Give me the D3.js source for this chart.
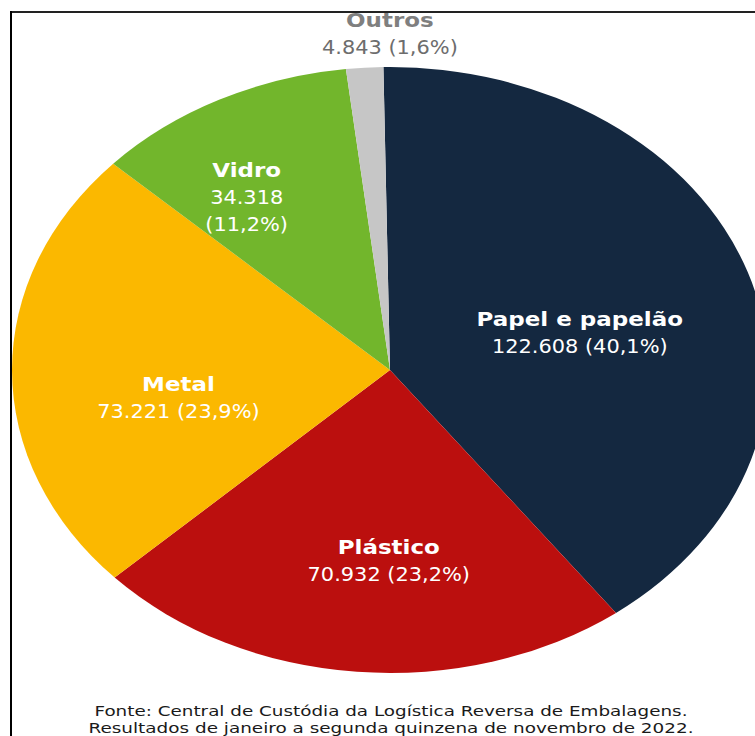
<!DOCTYPE html>
<html>
<head>
<meta charset="utf-8">
<script src="https://cdn.jsdelivr.net/npm/d3@7"></script>
<style>
  body { margin: 0; background: #fff; }
  text { font-family: "DejaVu Sans", sans-serif; }
</style>
</head>
<body>
<svg width="755" height="736"></svg>
<script>
// data (clockwise from the top)
var categories = ["Papel e papelão", "Plástico", "Metal", "Vidro", "Outros"];
var values = [122608, 70932, 73221, 34318, 4843];
var valueLabels = ["122.608", "70.932", "73.221", "34.318", "4.843"];
var percentLabels = ["40,1%", "23,2%", "23,9%", "11,2%", "1,6%"];
var sourceLines = [
  "Fonte: Central de Custódia da Logística Reversa de Embalagens.",
  "Resultados de janeiro a segunda quinzena de novembro de 2022."
];

var colors = ["#142840", "#bb0f0e", "#fbb800", "#72b62c", "#c6c6c6"];

var svg = d3.select("svg"),
    cx = 390, cy = 370,
    ry = 303,          // vertical radius
    sx = 378 / 303;    // the pie is stretched sideways

var data = categories.map(function(c, i) {
  return {name: c, value: values[i], valueLabel: valueLabels[i], pct: percentLabels[i], color: colors[i]};
});

var start = -1 * Math.PI / 180;
var pie = d3.pie()
    .sort(null)
    .value(function(d) { return d.value; })
    .startAngle(start)
    .endAngle(start + 2 * Math.PI);

var arcs = pie(data);

var arc = d3.arc().innerRadius(0).outerRadius(ry);

var g = svg.append("g")
    .attr("transform", "translate(" + cx + "," + cy + ") scale(" + sx + ",1)");

g.selectAll("path")
  .data(arcs)
  .enter().append("path")
    .attr("d", arc)
    .attr("fill", function(d) { return d.data.color; });

// labels sit on the arc centroid, moved a bit to where the original puts them
var labelArc = d3.arc().innerRadius(176).outerRadius(176);
var outerArc = d3.arc().innerRadius(336).outerRadius(336);
var nudge = {
  "Papel e papelão": [-18, 13],
  "Plástico": [18, 9],
  "Metal": [8, 20],
  "Vidro": [-44, -36],
  "Outros": [28, -8]
};

var labels = svg.append("g")
    .attr("transform", "translate(" + cx + "," + cy + ")");

arcs.forEach(function(d) {
  var name = d.data.name,
      c = (name == "Outros" ? outerArc : labelArc).centroid(d),
      x = c[0] * sx + nudge[name][0],
      y = c[1] + nudge[name][1],
      light = name == "Outros",
      lines;

  if (name == "Vidro") lines = [d.data.valueLabel, "(" + d.data.pct + ")"];
  else lines = [d.data.valueLabel + " (" + d.data.pct + ")"];

  labels.append("text")
      .attr("transform", "translate(" + x + "," + y + ") scale(1.21,1)")
      .attr("text-anchor", "middle")
      .attr("font-size", 19)
      .attr("font-weight", "bold")
      .attr("fill", light ? "#7f7f7f" : "#fff")
      .text(name);

  lines.forEach(function(l, j) {
    labels.append("text")
        .attr("transform", "translate(" + x + "," + (y + 27 * (j + 1)) + ") scale(1.1,1)")
        .attr("text-anchor", "middle")
        .attr("font-size", 19)
        .attr("fill", light ? "#6d6d6d" : "#fff")
        .text(l);
  });
});

// source note (the second line runs to the bottom edge, as in the original)
svg.selectAll(".source")
  .data(sourceLines)
  .enter().append("text")
    .attr("class", "source")
    .attr("x", 391)
    .attr("y", function(d, i) { return 716 + i * 17; })
    .attr("text-anchor", "middle")
    .attr("font-size", 14.5)
    .attr("fill", "#1a1a1a")
    .attr("textLength", function(d, i) { return i ? 605 : 593; })
    .attr("lengthAdjust", "spacingAndGlyphs")
    .text(function(d) { return d; });

// frame
svg.append("rect").attr("x", 0).attr("y", 0).attr("width", 755).attr("height", 11).attr("fill", "#fff");
svg.append("line")
    .attr("x1", 10).attr("x2", 755).attr("y1", 12).attr("y2", 12)
    .attr("stroke", "#222").attr("stroke-width", 2);
svg.append("line")
    .attr("x1", 11).attr("x2", 11).attr("y1", 11).attr("y2", 736)
    .attr("stroke", "#000").attr("stroke-width", 2);
</script>
</body>
</html>
